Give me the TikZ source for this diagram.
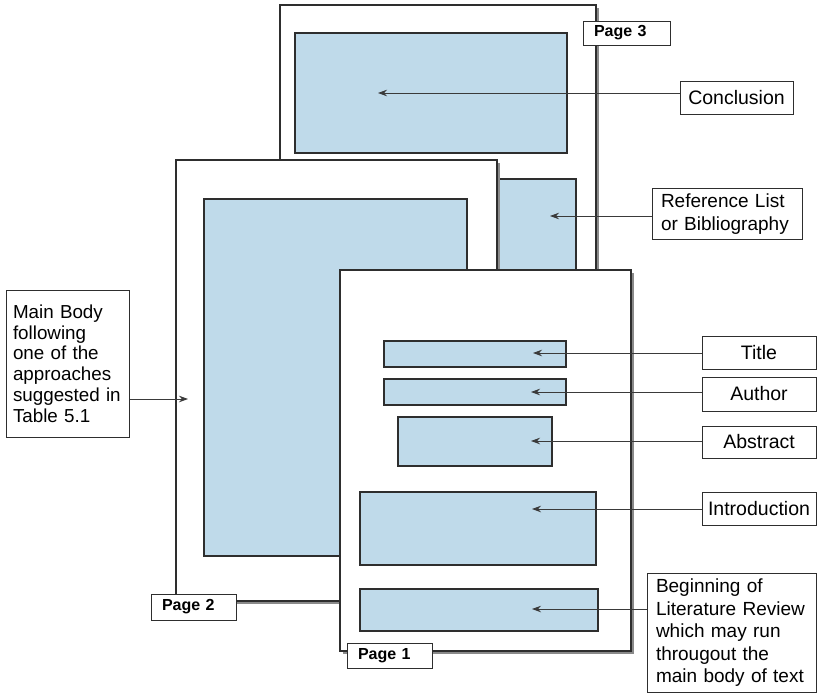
\documentclass[tikz,border=0pt]{standalone}
\usepackage{fontspec}
\setmainfont{Liberation Sans}
\usetikzlibrary{arrows.meta}
\hyphenpenalty=10000
\exhyphenpenalty=10000
\definecolor{bluefill}{HTML}{BFDAEA}
\definecolor{edge}{HTML}{2E2E2E}
\definecolor{shadowgray}{HTML}{8A8A8A}
\definecolor{arrowgray}{HTML}{3A3A3A}
\begin{document}
\begin{tikzpicture}[x=1pt,y=-1pt,
  pagebox/.style={draw=edge,fill=white,line width=1.1pt},
  pageshadow/.style={fill=shadowgray},
  bluebox/.style={draw=edge,fill=bluefill,line width=1.1pt},
  lbl/.style={draw=edge,fill=white,line width=1pt,font=\fontsize{19.5}{22.5}\selectfont,inner sep=0pt,anchor=center},
  multilbl/.style={lbl,align=left,inner xsep=9pt,font=\fontsize{19}{22.5}\selectfont},
  pagelbl/.style={draw=edge,fill=white,line width=1pt,font=\fontsize{16}{18}\selectfont\bfseries,inner xsep=11pt,inner ysep=0pt,align=left,anchor=center},
  arr/.style={draw=arrowgray,line width=0.8pt,-{Stealth[length=9pt,width=6.5pt]}}
]
\useasboundingbox (0,0) rectangle (818,694);
% ---------- Page 3 ----------
\fill[pageshadow] (283,8) rectangle (599,563);
\draw[pagebox] (280,5) rectangle (596,560);
\draw[bluebox] (295,33) rectangle (567,153);
\draw[bluebox] (494,179) rectangle (576,340);
\node[pagelbl,minimum width=87pt,minimum height=24pt,text width=65pt] (p3) at (626.5,33) {Page 3};
% ---------- Page 2 ----------
\fill[pageshadow] (179,163) rectangle (500,604);
\draw[pagebox] (176,160) rectangle (497,601);
\draw[bluebox] (204,199) rectangle (467,556);
\node[pagelbl,minimum width=85pt,minimum height=26pt,text width=63pt] (p2) at (193.5,607) {Page 2};
% ---------- Page 1 ----------
\fill[pageshadow] (343,273) rectangle (634,654);
\draw[pagebox] (340,270) rectangle (631,651);
\draw[bluebox] (384,341) rectangle (566,367);
\draw[bluebox] (384,379) rectangle (566,405);
\draw[bluebox] (398,417) rectangle (552,466);
\draw[bluebox] (360,492) rectangle (596,565);
\draw[bluebox] (360,589) rectangle (598,631);
\node[pagelbl,minimum width=85pt,minimum height=25pt,text width=63pt] (p1) at (389.5,655.5) {Page 1};
% ---------- Labels ----------
\node[lbl,minimum width=113pt,minimum height=33pt] (concl) at (736.5,97.5) {Conclusion};
\node[multilbl,minimum height=51pt,text width=132pt] (refl) at (727,214) {Reference List\\or Bibliography};
\node[lbl,minimum width=114pt,minimum height=33pt] (title) at (759,352.5) {Title};
\node[lbl,minimum width=114pt,minimum height=34pt] (author) at (759,394) {Author};
\node[lbl,minimum width=114pt,minimum height=32pt] (abstr) at (759,442) {Abstract};
\node[lbl,minimum width=114pt,minimum height=33pt] (intro) at (759,508.5) {Introduction};
\node[multilbl,minimum height=119pt,text width=151pt] (litrev) at (731.5,633) {Beginning of\\Literature Review\\which may run\\througout the\\main body of text};
\node[multilbl,minimum height=147pt,inner xsep=7pt,text width=109pt,font=\fontsize{18.8}{20.8}\selectfont] (mainb) at (67.5,363.5) {Main Body\\following\\one of the\\approaches\\suggested in\\Table 5.1};
% ---------- Arrow tips ----------
\coordinate (tconcl) at (378,93);
\coordinate (trefl) at (550,216);
\coordinate (ttitle) at (533,353);
\coordinate (tauthor) at (531,392);
\coordinate (tabstr) at (531,441);
\coordinate (tintro) at (532,509);
\coordinate (tlit) at (532,609);
\coordinate (tmain) at (188,399);
% ---------- Arrows ----------
\draw[arr] (tconcl -| concl.west) -- (tconcl);
\draw[arr] (trefl -| refl.west) -- (trefl);
\draw[arr] (ttitle -| title.west) -- (ttitle);
\draw[arr] (tauthor -| author.west) -- (tauthor);
\draw[arr] (tabstr -| abstr.west) -- (tabstr);
\draw[arr] (tintro -| intro.west) -- (tintro);
\draw[arr] (tlit -| litrev.west) -- (tlit);
\draw[arr] (tmain -| mainb.east) -- (tmain);
\end{tikzpicture}
\end{document}
